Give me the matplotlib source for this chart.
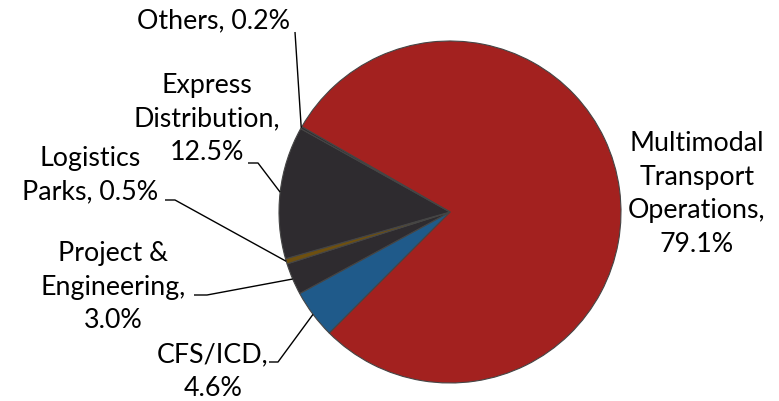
import numpy as np
import matplotlib
matplotlib.use("Agg")
import matplotlib.pyplot as plt

categories = ["Multimodal Transport Operations", "CFS/ICD", "Project & Engineering",
              "Logistics Parks", "Express Distribution", "Others"]
values = [79.1, 4.6, 3.0, 0.5, 12.5, 0.2]
label_texts = ["Multimodal\nTransport\nOperations,\n79.1%", "CFS/ICD,\n4.6%",
               "Project &\nEngineering,\n3.0%", "Logistics\nParks, 0.5%",
               "Express\nDistribution,\n12.5%", "Others, 0.2%"]
colors = ["#A3211F", "#1F5A8A", "#2E2B2F", "#6E5010", "#2E2B2F", "#2E2B2F"]

W, H = 779, 401
fig = plt.figure(figsize=(W / 100, H / 100), dpi=100)
ax = fig.add_axes([0, 0, 1, 1])

cx, cy, R = 450, H - 212, 171
wedges, _ = ax.pie(values, colors=colors, startangle=150.1, counterclock=False,
                   center=(cx, cy), radius=R,
                   wedgeprops=dict(edgecolor="#454545", linewidth=0.8))
ax.set_xlim(0, W)
ax.set_ylim(0, H)
ax.set_aspect("equal")
ax.axis("off")

font = dict(family="Lato", fontsize=19.3, color="#000000", linespacing=1.42)

# label text centers (pixel coords, y from top)
text_pos = [(697, 194), (213, 372), (113, 287), (90, 175), (207, 119), (214, 21)]
# leader line start points (pixel coords), with a short horizontal stub
leader = [None,
          [(269, 362), (278, 362)],
          [(194, 295), (207, 295)],
          [(165, 200), (175, 200)],
          [(248, 163), (258, 163)],
          [(295, 32)]]

for i, w in enumerate(wedges):
    tx, ty = text_pos[i]
    ax.text(tx, H - ty, label_texts[i], ha="center", va="center", **font)
    if leader[i] is not None:
        mid = np.deg2rad((w.theta1 + w.theta2) / 2)
        ex, ey = cx + R * np.cos(mid), cy + R * np.sin(mid)
        xs = [p[0] for p in leader[i]] + [ex]
        ys = [H - p[1] for p in leader[i]] + [ey]
        ax.plot(xs, ys, color="black", linewidth=1.0, solid_capstyle="butt")

fig.savefig("out.png", dpi=100)
